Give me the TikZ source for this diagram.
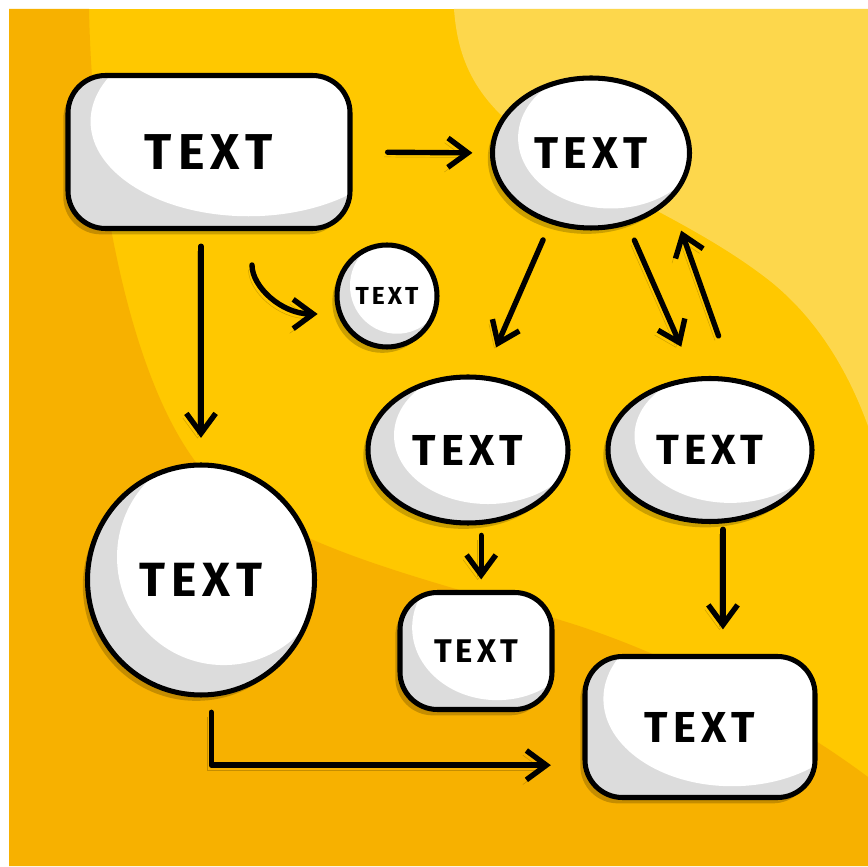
\documentclass[tikz,border=0pt]{standalone}
\usepackage{fontspec}
\newfontfamily\handfont{Fira Sans}[LetterSpace=12]
\usetikzlibrary{arrows.meta,calc,shapes.geometric,shadows}
\definecolor{bgmid}{HTML}{FFC800}
\definecolor{bgdark}{HTML}{F7B100}
\definecolor{bglight}{HTML}{FDD74C}
\definecolor{shadegrey}{HTML}{DCDCDC}
\def\pix{0.03cm}
\newcommand\txtsize[1]{\handfont\bfseries\fontsize{#1}{#1}\selectfont}
\tikzset{
	hilite/.style n args={4}{path picture={\fill[white] let \p1=(path picture bounding box.south west), \p2=(path picture bounding box.north east) in ({\x1+#1*(\x2-\x1)},{\y1+#2*(\y2-\y1)}) ellipse [x radius={#3*(\x2-\x1)}, y radius={#4*(\y2-\y1)}];}},
	bubble/.style={draw=black, line width=4.3pt, fill=shadegrey, inner sep=0pt, text=black, drop shadow={shadow xshift=-4pt, shadow yshift=-5pt, fill=black, opacity=0.2}},
	ovalnode/.style={bubble, ellipse, hilite={0.6}{0.6}{0.47}{0.47}},
	boxnode/.style={bubble, rectangle, rounded corners=32pt, hilite={0.64}{0.7}{0.56}{0.62}},
	flow/.style={line width=4.6pt, line cap=round, line join=round, -{Straight Barb[length=17pt,width=25pt]}, preaction={draw=black, opacity=0.2, transform canvas={shift={(-3pt,-4pt)}}}}
}

\begin{document}
\begin{tikzpicture}[x=0.03cm, y=0.03cm]
		%%%%% START %%%%%
		
		\useasboundingbox[fill=white] (0,0) rectangle (868,866);
		\fill[bgmid] (9,0) rectangle (868,857);
		\fill[bgdark] (9,857) -- (89,857) .. controls (92,700) and (125,500) .. (195,405) .. controls (270,320) and (420,290) .. (560,246) .. controls (680,210) and (800,140) .. (868,89) -- (868,0) -- (9,0) -- cycle;
		\fill[bglight] (454,857) .. controls (458,800) and (480,760) .. (540,720) .. controls (610,675) and (700,640) .. (770,585) .. controls (820,545) and (850,490) .. (868,440) -- (868,857) -- cycle;
		
		\node[boxnode, minimum width=282*\pix, minimum height=153*\pix, font=\txtsize{43}] (boxA) at (209,714) {TEXT};
		\node[ovalnode, minimum width=197*\pix, minimum height=150*\pix, font=\txtsize{38}] (ovalB) at (591,713) {TEXT};
		\node[ovalnode, minimum width=100*\pix, minimum height=102*\pix, font=\txtsize{21}] (dotC) at (387,570) {TEXT};
		\node[ovalnode, minimum width=200*\pix, minimum height=146*\pix, font=\txtsize{37}] (ovalD) at (468,416) {TEXT};
		\node[ovalnode, minimum width=204*\pix, minimum height=143*\pix, font=\txtsize{36}] (ovalE) at (710,416) {TEXT};
		\node[ovalnode, minimum width=227*\pix, minimum height=230*\pix, font=\txtsize{41}] (ballF) at (201,286) {TEXT};
		\node[boxnode, minimum width=152*\pix, minimum height=117*\pix, font=\txtsize{28}] (boxG) at (476,215) {TEXT};
		\node[boxnode, minimum width=230*\pix, minimum height=141*\pix, font=\txtsize{37}] (boxH) at (700,139) {TEXT};
		
		\draw[flow, shorten <=30pt, shorten >=15pt] (boxA.east) -- (ovalB.west);
		\draw[flow, shorten <=13pt, shorten >=21pt] (boxA.south -| ballF.north) -- (ballF.north);
		\draw[flow, shorten <=29pt, shorten >=17pt] ([xshift=43*\pix]boxA.south) to[out=-90, in=180, looseness=1.2] (dotC.200);
		
		\draw[flow, shorten <=15pt, shorten >=26pt] (ovalB.240) -- (ovalD.78);
		\draw[flow, shorten <=14pt, shorten >=28pt] (ovalB.297) -- (ovalE.102);
		\draw[flow, shorten <=38pt, shorten >=27pt] (ovalE.72) -- (ovalB.329);
		
		\draw[flow, shorten <=9pt, shorten >=9pt] (ovalD.-80) -- (ovalD.-80 |- boxG.north);
		\draw[flow, shorten <=5pt, shorten >=21pt] (ovalE.-80) -- (ovalE.-80 |- boxH.north);
		\draw[flow, shorten <=13pt, shorten >=27pt] (ballF.-85) |- (boxH.198);
		
		%%%%% END %%%%%
\end{tikzpicture}
\end{document}
